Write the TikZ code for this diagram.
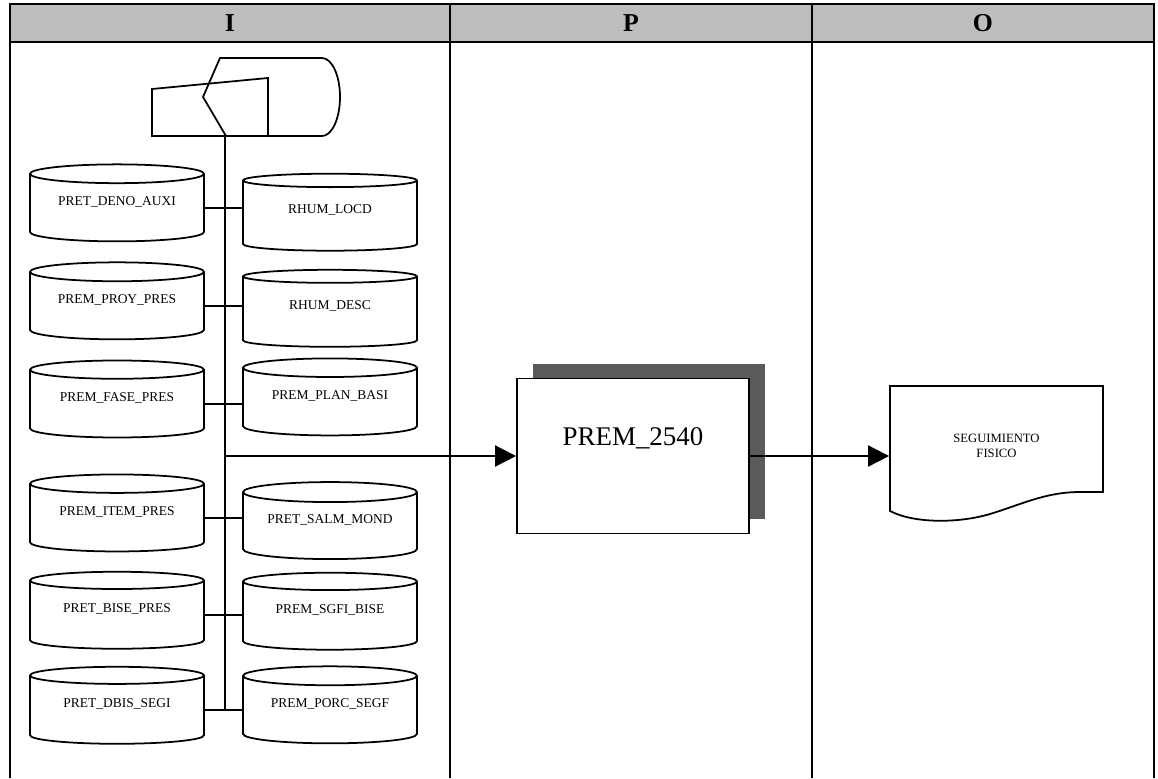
\documentclass[tikz,border=0pt]{standalone}
\usepackage{fontspec}
\setmainfont{Liberation Serif}
\usetikzlibrary{arrows.meta, shapes.geometric, shadows}
\definecolor{headgray}{HTML}{BDBDBD}
\definecolor{shadegray}{HTML}{5A5A5A}

\tikzset{
    dbcyl/.style={cylinder, draw, shape border rotate=90, shape aspect=0.16,
        minimum width=5.22cm, minimum height=2.31cm, inner sep=0pt,
        text depth=0.42cm, font=\fontsize{11.5}{13}\selectfont},
    headtxt/.style={font=\fontsize{22}{24}\selectfont\bfseries},
    procbox/.style={draw, fill=white, minimum width=6.96cm, minimum height=4.65cm,
        drop shadow={shadow xshift=0.48cm, shadow yshift=0.45cm, fill=shadegray, opacity=1}},
    docbox/.style={minimum width=6.39cm, minimum height=3.48cm, align=center,
        font=\fontsize{10.8}{13.2}\selectfont},
    flow/.style={-{Triangle[length=18pt, width=18pt]}},
}

\begin{document}
\begin{tikzpicture}[x=0.03cm, y=-0.03cm, line width=1.5pt]
    \useasboundingbox (0,0) rectangle (1158,778);
    \fill[headgray] (10,4) rectangle (1154,42);
    \draw (10,778) -- (10,4) -- (1154,4) -- (1154,778);
    \draw (10,42) -- (1154,42);
    \draw (450,4) -- (450,778);
    \draw (812,4) -- (812,778);
    \node[headtxt] (hi) at (230,23) {I};
    \node[headtxt] (hp) at (631,23) {P};
    \node[headtxt] (ho) at (983,23) {O};

    \draw (152,89) -- (268,78) -- (268,136) -- (152,136) -- cycle;
    \draw (226,136) -- (203,97) -- (220,58) -- (322,58)
        arc[start angle=90, end angle=-90, x radius=0.54cm, y radius=1.17cm] -- cycle;
    \coordinate (dsp) at (225,136);

    \node[dbcyl] (deno) at (117,208) {PRET\_DENO\_AUXI};
    \node[dbcyl] (proy) at (117,306) {PREM\_PROY\_PRES};
    \node[dbcyl] (fase) at (117,404) {PREM\_FASE\_PRES};
    \node[dbcyl] (item) at (117,518) {PREM\_ITEM\_PRES};
    \node[dbcyl] (bise) at (117,615) {PRET\_BISE\_PRES};
    \node[dbcyl] (dbis) at (117,710) {PRET\_DBIS\_SEGI};
    \node[dbcyl] (locd) at (330,216) {RHUM\_LOCD};
    \node[dbcyl] (desc) at (330,312) {RHUM\_DESC};
    \node[dbcyl] (plan) at (330,402) {PREM\_PLAN\_BASI};
    \node[dbcyl] (salm) at (330,526) {PRET\_SALM\_MOND};
    \node[dbcyl] (sgfi) at (330,616) {PREM\_SGFI\_BISE};
    \node[dbcyl] (porc) at (330,710) {PREM\_PORC\_SEGF};

    \draw (dsp) -- (dsp |- dbis.east);
    \draw (deno.east) -- (deno.east -| locd.west);
    \draw (proy.east) -- (proy.east -| desc.west);
    \draw (fase.east) -- (fase.east -| plan.west);
    \draw (item.east) -- (item.east -| salm.west);
    \draw (bise.east) -- (bise.east -| sgfi.west);
    \draw (dbis.east) -- (dbis.east -| porc.west);

    \node[procbox] (prem) at (633,456) {};
    \node[font=\fontsize{23}{25}\selectfont] (premtxt) at (633,438) {PREM\_2540};
    \coordinate (tap) at (225,456);
    \draw[flow] (tap) -- (prem.west);

    \draw (890,386) -- (1103,386) -- (1103,492) -- (1080,492)
        .. controls (1045,492) and (1020,505) .. (990,514)
        .. controls (960,523) and (915,524) .. (890,511) -- cycle;
    \node[docbox] (seg) at (996.5,446) {SEGUIMIENTO\\FISICO};
    \draw[flow] (prem.east) -- (prem.east -| seg.west);
\end{tikzpicture}
\end{document}
